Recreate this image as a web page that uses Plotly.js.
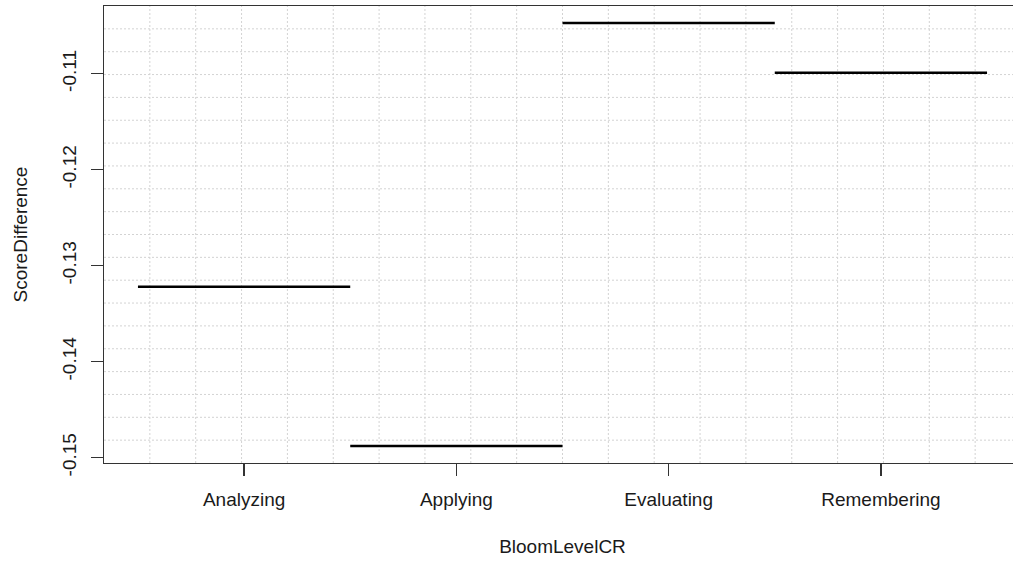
<!DOCTYPE html>
<html>
<head>
<meta charset="utf-8">
<script src="https://cdn.plot.ly/plotly-3.0.1.min.js"></script>
<style>
  html, body { margin: 0; padding: 0; overflow: hidden; background: #fff; }
  #chart { width: 1030px; height: 563px; }
</style>
</head>
<body>
<div id="chart"></div>
<script>
// Data
const categories = ["Analyzing", "Applying", "Evaluating", "Remembering"];
const scoreDifference = [-0.1322, -0.1488, -0.1047, -0.1099];
const yTickValues = [-0.15, -0.14, -0.13, -0.12, -0.11];
const yTickLabels = ["-0.15", "-0.14", "-0.13", "-0.12", "-0.11"];

const positions = categories.map((c, i) => i + 1);

// One horizontal median line per category, spanning the category slot
const traces = categories.map((c, i) => ({
  type: "scatter",
  mode: "lines",
  x: [positions[i] - 0.5, positions[i] + 0.5],
  y: [scoreDifference[i], scoreDifference[i]],
  line: { color: "#000000", width: 2.6 },
  hoverinfo: "skip",
  showlegend: false
}));

// R-style range padding (4%)
const xmin = 0.5, xmax = categories.length + 0.5;
const xpad = (xmax - xmin) * 0.04;
const ymin = Math.min(...scoreDifference), ymax = Math.max(...scoreDifference);
const ypad = (ymax - ymin) * 0.04;

// Dotted grid: 20 equal divisions in each direction (like R's grid(20, 20))
const nGrid = 20;
const shapes = [];
for (let k = 1; k < nGrid; k++) {
  shapes.push({
    type: "line", layer: "below", xref: "x domain", yref: "y domain",
    x0: k / nGrid, x1: k / nGrid, y0: 0, y1: 1,
    line: { color: "#d3d3d3", width: 1, dash: "2px,2px" }
  });
  shapes.push({
    type: "line", layer: "below", xref: "x domain", yref: "y domain",
    x0: 0, x1: 1, y0: k / nGrid, y1: k / nGrid,
    line: { color: "#d3d3d3", width: 1, dash: "2px,2px" }
  });
}

const fontFamily = "Liberation Sans, Arial, sans-serif";

const layout = {
  width: 1030,
  height: 563,
  margin: { l: 104, r: 9, t: 6, b: 100 },
  paper_bgcolor: "#ffffff",
  plot_bgcolor: "#ffffff",
  font: { family: fontFamily, size: 19, color: "#1a1a1a" },
  showlegend: false,
  shapes: shapes,
  xaxis: {
    range: [xmin - xpad, xmax + xpad],
    tickmode: "array",
    tickvals: positions,
    ticktext: categories,
    ticks: "outside",
    ticklen: 12,
    tickwidth: 1.3,
    tickcolor: "#333333",
    showgrid: false,
    zeroline: false,
    showline: true,
    linecolor: "#333333",
    linewidth: 1.3,
    mirror: true,
    tickfont: { size: 19, color: "#1a1a1a" },
    ticklabelstandoff: 7,
    title: { text: "BloomLevelCR", font: { size: 19, color: "#1a1a1a" }, standoff: 30 }
  },
  yaxis: {
    range: [ymin - ypad, ymax + ypad],
    tickmode: "array",
    tickvals: yTickValues,
    ticktext: yTickLabels,
    tickangle: -90,
    ticks: "outside",
    ticklen: 12,
    tickwidth: 1.3,
    tickcolor: "#333333",
    showgrid: false,
    zeroline: false,
    showline: true,
    linecolor: "#333333",
    linewidth: 1.3,
    mirror: true,
    tickfont: { size: 19, color: "#1a1a1a" },
    ticklabelstandoff: 7,
    title: { text: "ScoreDifference", font: { size: 19, color: "#1a1a1a" }, standoff: 26 }
  }
};

Plotly.newPlot("chart", traces, layout, { staticPlot: true, displayModeBar: false });
</script>
</body>
</html>
